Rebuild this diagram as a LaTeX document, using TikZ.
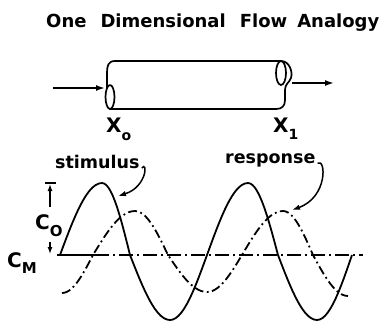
\documentclass[tikz,border=0pt]{standalone}
\usepackage{fontspec}
\newfontfamily\lettering{DejaVu Sans}
\usetikzlibrary{arrows.meta}

\newcommand\subfont{\fontsize{14}{14}\selectfont}

\begin{document}
\begin{tikzpicture}[
    x=1pt, y=-1pt,
    word/.style={font=\lettering\bfseries\fontsize{17.5}{17.5}\selectfont, inner sep=0pt},
    sym/.style={font=\lettering\bfseries\fontsize{20}{20}\selectfont, inner sep=0pt},
    tube/.style={line width=1.7pt, line join=round, line cap=round},
    flow/.style={-{Latex[length=9pt,width=6pt]}, line width=1.6pt},
    callout/.style={-{Latex[length=8pt,width=5.5pt]}, line width=1.5pt},
    stim/.style={line width=1.8pt, line join=round},
    resp/.style={line width=1.8pt, dash pattern=on 9pt off 3.5pt on 1.8pt off 3.5pt},
    level/.style={line width=1.7pt, dash pattern=on 14pt off 4pt on 2pt off 4pt},
    dim/.style={-{Latex[length=7pt,width=5pt]}, line width=1.3pt}
]
\useasboundingbox (0,0) rectangle (383,322);

\node[word, font=\lettering\bfseries\fontsize{18}{18}\selectfont, anchor=base west] (title) at (46,27)
    {One\hspace{14pt}Dimensional\hspace{14pt}Flow\hspace{10pt}Analogy};

% pipe
\draw[tube] (115,61) -- (281,61);
\draw[tube] (115,61) .. controls (108,61) and (107,66) .. (107,73) -- (107,88);
\draw[tube] (110,97) ellipse [x radius=4.5pt, y radius=12pt];
\draw[tube] (110,109) -- (276,109);
\draw[tube] (281,73) ellipse [x radius=5pt, y radius=12pt];
\draw[tube] (281,61) .. controls (289,61) and (293,71) .. (291,78)
    .. controls (289,83) and (285,84) .. (285,90) -- (285,100)
    .. controls (285,106) and (282,109) .. (276,109);

\coordinate (in) at (53,88);
\coordinate (inlet) at (105,88);
\coordinate (outlet) at (292,83);
\coordinate (out) at (334,83);
\draw[flow] (in) -- (inlet);
\draw[flow] (outlet) -- (out);

\node[sym, anchor=base west] (x0) at (106,132) {X\raisebox{-8pt}{\subfont o}};
\node[sym, anchor=base west] (x1) at (273,132) {X\raisebox{-7pt}{\subfont 1}};

% waves
\coordinate (cm) at (57,255);
\coordinate (cross) at (95,255);
\coordinate (cend) at (363,255);
\draw[line width=1.8pt] (cm) -- (cross);
\draw[level] (cross) -- (cend);

\draw[stim] (60,255)
  \foreach \a/\b/\q/\A in {60/102/0/72, 102/130/1/72, 130/170/2/65, 170/207/3/65,
                           207/248/4/72, 248/278/5/72, 278/317/6/65, 317/352/7/65}
  { -- plot[domain=0:1, samples=14] ({\a+(\b-\a)*\x}, {255-\A*sin(90*(\q+\x))}) };

\draw[resp] (62,293)
  \foreach \a/\b/\q/\A in {62/93/3/38, 93/135/4/44, 135/168/5/44, 168/207/6/37,
                           207/242/7/37, 242/283/8/44, 283/313/9/44, 313/348/10/41}
  { -- plot[domain=0:1, samples=14] ({\a+(\b-\a)*\x}, {255-\A*sin(90*(\q+\x))}) };

% amplitude
\coordinate (top) at (50,183);
\coordinate (ctop) at (50,207);
\coordinate (cbot) at (50,242);
\coordinate (bot) at (50,254);
\draw[line width=1.3pt] ([xshift=-5pt]top) -- ([xshift=6pt]top);
\draw[dim] (ctop) -- ([yshift=-1pt]top);
\draw[dim] (cbot) -- (bot);
\node[sym, anchor=base west] (co) at (35,229) {C\raisebox{-7pt}{\fontsize{15}{15}\selectfont O}};
\node[sym, anchor=base west] (cmlbl) at (7,267) {C\raisebox{-6pt}{\fontsize{15}{15}\selectfont M}};

% labels
\node[word, anchor=base west] (stimlbl) at (55,168) {stimulus};
\node[word, anchor=base west] (resplbl) at (225,163) {response};
\coordinate (stimtip) at (118,196);
\coordinate (resptip) at (292,210);
\draw[callout] ([xshift=2pt]stimlbl.base east) .. controls (148,160) and (147,187) .. (stimtip);
\draw[callout] ([xshift=2pt]resplbl.base east) .. controls (326,158) and (328,197) .. (resptip);

\end{tikzpicture}
\end{document}
